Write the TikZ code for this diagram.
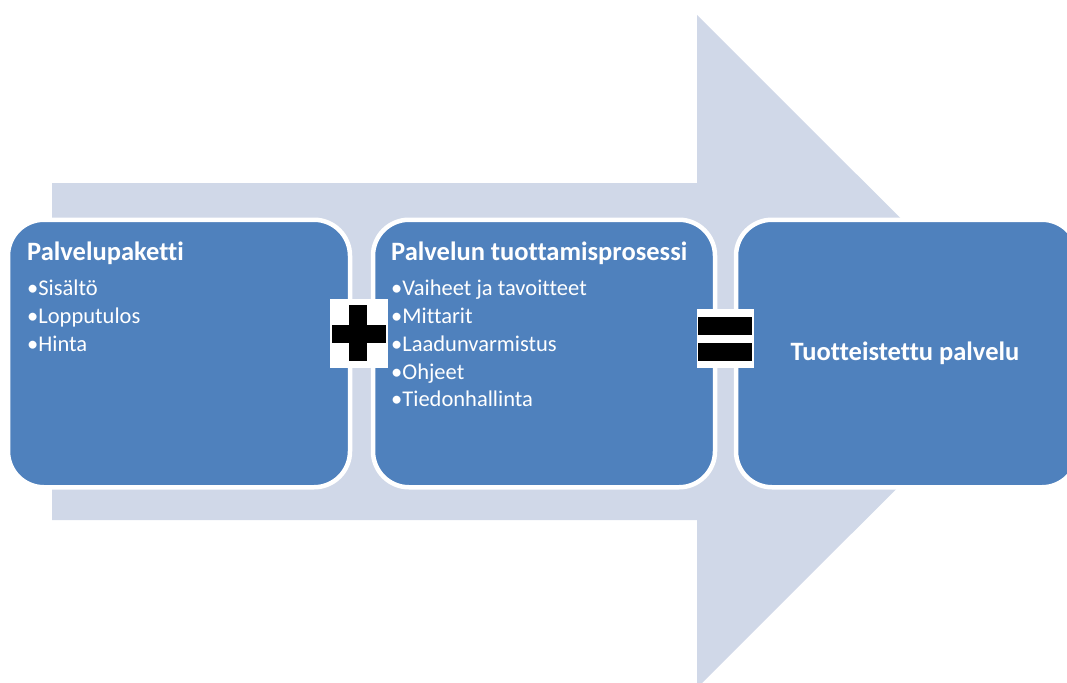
\documentclass[tikz,border=0pt]{standalone}
\usepackage{fontspec}
\setmainfont{Carlito}[Ligatures={NoCommon}]
\definecolor{boxblue}{HTML}{4F81BD}
\definecolor{arrowgrey}{HTML}{D0D8E8}
\begin{document}
\begin{tikzpicture}[x=1pt,y=-1pt,
  stepbox/.style={draw=white, line width=4.5pt, fill=boxblue, rounded corners=36pt,
    minimum width=342pt, minimum height=267.5pt, inner sep=0pt},
  title/.style={anchor=base west, text=white, inner sep=0pt,
    font=\fontsize{26.5}{30}\selectfont\bfseries},
  item/.style={anchor=base west, text=white, inner sep=0pt,
    font=\fontsize{22.5}{26}\selectfont},
  opbox/.style={fill=white, inner sep=0pt},
  opbar/.style={fill=black}]
\useasboundingbox (0,0) rectangle (1067,682);
\clip (0,0) rectangle (1067,682);

% large background arrow
\fill[arrowgrey] (52,183) -- (697,183) -- (697,15) -- (1034,351.5)
  -- (697,688) -- (697,520) -- (52,520) -- cycle;

% the three stages
\node[stepbox] (pkg)  at (179,353.5) {};
\node[stepbox] (proc) at (544,353.5) {};
\node[stepbox] (res)  at (907,353.5) {};

% stage 1: service package
\node[title] (pkgtitle) at (27,260) {Palvelupaketti};
\node[item] (pkg1) at (27,295) {•Sisältö};
\node[item] (pkg2) at (27,323) {•Lopputulos};
\node[item] (pkg3) at (27,351) {•Hinta};

% stage 2: production process
\node[title] (proctitle) at (391,260) {Palvelun tuottamisprosessi};
\node[item] (proc1) at (391,295) {•Vaiheet ja tavoitteet};
\node[item] (proc2) at (391,323) {•Mittarit};
\node[item] (proc3) at (391,351) {•Laadunvarmistus};
\node[item] (proc4) at (391,379) {•Ohjeet};
\node[item] (proc5) at (391,406) {•Tiedonhallinta};

% stage 3: result
\node[text=white, inner sep=0pt, font=\fontsize{26.5}{30}\selectfont\bfseries]
  (restitle) at (905,353) {Tuotteistettu palvelu};

% plus sign between stage 1 and 2
\node[opbox, minimum width=58pt, minimum height=69pt] (plus) at (359,333.5) {};
\fill[opbar] (332,325) rectangle (386,343);
\fill[opbar] (349,305) rectangle (367,361);

% equals sign between stage 2 and 3
\node[opbox, minimum width=57pt, minimum height=59pt] (equals) at (725.5,338.5) {};
\fill[opbar] (698,317) rectangle (752,335);
\fill[opbar] (698,343) rectangle (752,361);
\end{tikzpicture}
\end{document}
